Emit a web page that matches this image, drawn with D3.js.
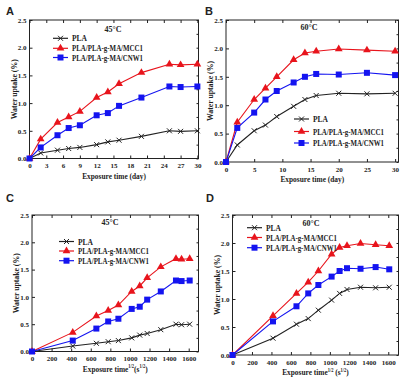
<!DOCTYPE html>
<html><head><meta charset="utf-8">
<script src="https://cdn.jsdelivr.net/npm/d3@7"></script>
<style>body{margin:0;background:#fff}svg{display:block}</style>
</head><body>
<svg id="c" width="400" height="385"></svg>
<script>
// Panel A (45°C, days)
const daysA = [0, 2, 5, 7, 9, 12, 14, 16, 20, 25, 27, 30];
const plaA  = [0, 0.10, 0.15, 0.18, 0.20, 0.25, 0.30, 0.33, 0.40, 0.50, 0.49, 0.50];
const mccA  = [0, 0.35, 0.65, 0.75, 0.85, 1.10, 1.20, 1.35, 1.55, 1.70, 1.69, 1.70];
const cnwA  = [0, 0.20, 0.42, 0.55, 0.60, 0.78, 0.82, 0.95, 1.10, 1.30, 1.29, 1.30];
// Panel B (60°C, days)
const daysB = [0, 2, 5, 7, 9, 12, 14, 16, 20, 25, 30];
const plaB  = [0, 0.30, 0.55, 0.65, 0.80, 0.98, 1.10, 1.17, 1.21, 1.20, 1.21];
const mccB  = [0, 0.70, 1.10, 1.30, 1.50, 1.80, 1.92, 1.95, 1.99, 1.97, 1.95];
const cnwB  = [0, 0.60, 0.87, 1.10, 1.25, 1.40, 1.50, 1.55, 1.54, 1.57, 1.53];
// Panel C (45°C, sqrt seconds)
const sqrtC = [0, 416, 657, 778, 882, 1018, 1100, 1176, 1315, 1470, 1527, 1610];
// Panel D (60°C, sqrt seconds)
const sqrtD = [0, 416, 657, 778, 882, 1018, 1100, 1176, 1315, 1470, 1610];
const ticksDay3 = [0, 3, 6, 9, 12, 15, 18, 21, 24, 27, 30];
const ticksDay5 = [0, 5, 10, 15, 20, 25, 30];
const ticksSqrt = [0, 200, 400, 600, 800, 1000, 1200, 1400, 1600];
const ticksY = [0, 0.5, 1.0, 1.5, 2.0, 2.5];
const seriesNames = ["PLA", "PLA/PLA-g-MA/MCC1", "PLA/PLA-g-MA/CNW1"];
const colors = ["#222", "#e8141c", "#1414f0"];

const svg = d3.select("#c");
const serif = "'Liberation Serif','Times New Roman',serif";

function panel(o) {
  const g = svg.append("g");
  const x = d3.scaleLinear().domain(o.xd).range([o.l, o.r]);
  const y = d3.scaleLinear().domain([0, 2.5]).range([o.b, o.t]);
  g.append("rect").attr("x", o.l).attr("y", o.t).attr("width", o.r - o.l).attr("height", o.b - o.t)
    .attr("fill", "none").attr("stroke", "#222").attr("stroke-width", 1);
  const ax = d3.axisBottom(x).tickValues(o.xt).tickSize(-3).tickPadding(5).tickFormat(d3.format("d"));
  const ay = d3.axisLeft(y).tickValues(ticksY).tickSize(-3).tickPadding(3).tickFormat(d3.format(".1f"));
  const gx = g.append("g").attr("transform", `translate(0,${o.b})`).call(ax);
  const gy = g.append("g").attr("transform", `translate(${o.l},0)`).call(ay);
  g.append("g").attr("transform", `translate(0,${o.t})`).call(d3.axisTop(x).tickValues(o.xt).tickSize(-3).tickFormat(""));
  g.append("g").attr("transform", `translate(${o.r},0)`).call(d3.axisRight(y).tickValues(d3.range(0, 2.51, 0.25)).tickSize(-2).tickFormat(""));
  g.selectAll(".domain").remove();
  g.selectAll(".tick line").attr("stroke", "#222");
  [gx, gy].forEach(a => a.selectAll("text").attr("font-family", serif).attr("font-size", 7).attr("font-weight", "bold").attr("fill", "#222"));
  g.append("text").attr("transform", `translate(${o.l - 13},${(o.t + o.b) / 2}) rotate(-90)`)
    .attr("text-anchor", "middle").attr("font-family", serif).attr("font-size", 9).attr("font-weight", "bold").attr("fill", "#222")
    .attr("textLength", 60).attr("lengthAdjust", "spacingAndGlyphs")
    .text("Water uptake (%)");
  const xl = g.append("g").attr("transform", `translate(${(o.l + o.r) / 2},${o.b + 20}) scale(0.82,1)`)
    .append("text").attr("x", 0).attr("y", 0)
    .attr("text-anchor", "middle").attr("font-family", serif).attr("font-size", 9).attr("font-weight", "bold").attr("fill", "#222");
  if (o.sqrt) {
    xl.append("tspan").text("Exposure time");
    xl.append("tspan").attr("font-size", 5.5).attr("dy", -3.5).text("1/2");
    xl.append("tspan").attr("dy", 3.5).text(o.sp ? " (s" : "(s");
    xl.append("tspan").attr("font-size", 5.5).attr("dy", -3.5).text("1/2");
    xl.append("tspan").attr("dy", 3.5).text(")");
  } else xl.text("Exposure time (day)");
  g.append("text").attr("x", o.lx).attr("y", o.ly).attr("font-family", "'Liberation Sans',Arial,sans-serif")
    .attr("font-size", 11).attr("font-weight", "bold").attr("fill", "#222").text(o.letter);
  g.append("text").attr("x", o.tx).attr("y", o.ty).attr("text-anchor", "middle").attr("font-family", serif)
    .attr("font-size", 8).attr("font-weight", "bold").attr("fill", "#222").text(o.temp);
  const line = d3.line().x(d => x(d[0])).y(d => y(d[1]));
  o.ys.forEach((ys, i) => {
    const pts = o.xs.map((v, j) => [v, ys[j]]);
    g.append("path").attr("d", line(pts)).attr("fill", "none").attr("stroke", colors[i]).attr("stroke-width", 1.1);
    pts.forEach(p => marker(g, x(p[0]), y(p[1]), i));
  });
  const widths = [15, 71, 71];
  o.legY.forEach((ly, i) => {
    g.append("line").attr("x1", o.legX).attr("x2", o.legX + 15).attr("y1", ly).attr("y2", ly)
      .attr("stroke", colors[i]).attr("stroke-width", 1.2);
    marker(g, o.legX + 7.5, ly, i);
    g.append("text").attr("x", o.legX + 19).attr("y", ly + 3).attr("font-family", serif).attr("font-size", 8.5)
      .attr("font-weight", "bold").attr("fill", "#222")
      .attr("textLength", widths[i]).attr("lengthAdjust", "spacingAndGlyphs").text(seriesNames[i]);
  });
}

function marker(g, cx, cy, i) {
  if (i === 0) {
    g.append("path").attr("d", `M${cx-2.5},${cy-2.5}L${cx+2.5},${cy+2.5}M${cx-2.5},${cy+2.5}L${cx+2.5},${cy-2.5}`)
      .attr("stroke", colors[0]).attr("stroke-width", 1).attr("fill", "none");
  } else if (i === 1) {
    g.append("path").attr("d", d3.symbol(d3.symbolTriangle, 26)()).attr("transform", `translate(${cx},${cy})`).attr("fill", colors[1]);
  } else {
    g.append("rect").attr("x", cx - 3).attr("y", cy - 3).attr("width", 6).attr("height", 6).attr("fill", colors[2]);
  }
}

panel({letter: "A", lx: 6, ly: 15, l: 29.5, r: 198.5, t: 20, b: 158.5, xd: [0, 30.2], xt: ticksDay3, xs: daysA,
  ys: [plaA, mccA, cnwA], temp: "45°C", tx: 113, ty: 32, legX: 53, legY: [38.3, 48.3, 57.5]});
panel({letter: "B", lx: 205, ly: 15, l: 226, r: 398.5, t: 20, b: 162, xd: [0, 30.6], xt: ticksDay5, xs: daysB,
  ys: [plaB, mccB, cnwB], temp: "60°C", tx: 309, ty: 30, legX: 294, legY: [119, 131.5, 143]});
panel({letter: "C", lx: 6, ly: 202, l: 32, r: 198.5, t: 215, b: 351.5, xd: [0, 1700], xt: ticksSqrt, xs: sqrtC,
  ys: [plaA, mccA, cnwA], temp: "45°C", tx: 110, ty: 225, legX: 59, legY: [241.5, 251, 260.7], sqrt: true, sp: false});
panel({letter: "D", lx: 206, ly: 202, l: 232.5, r: 398.5, t: 215, b: 355, xd: [0, 1705], xt: ticksSqrt, xs: sqrtD,
  ys: [plaB, mccB, cnwB], temp: "60°C", tx: 311, ty: 226, legX: 247, legY: [227.7, 237.5, 247.7], sqrt: true, sp: true});
</script>
</body></html>
